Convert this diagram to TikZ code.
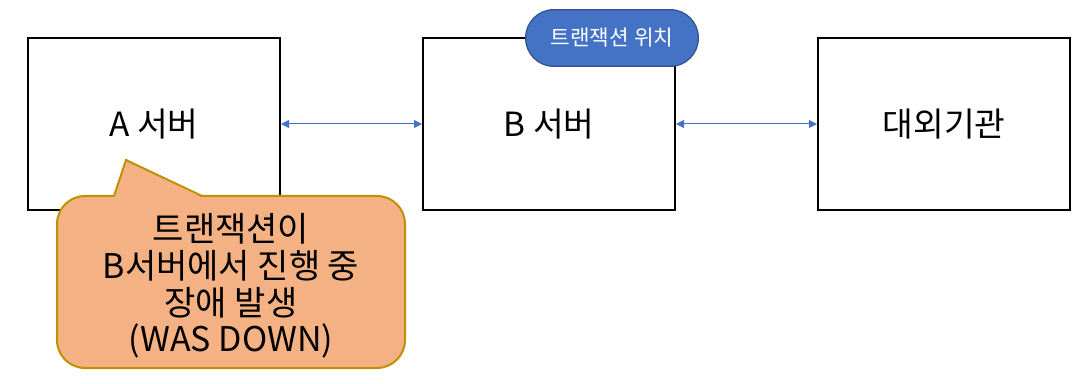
\documentclass[tikz,border=0pt]{standalone}
\usepackage{fontspec}
\setmainfont{Noto Sans CJK KR}
\usetikzlibrary{arrows.meta}
\definecolor{linkblue}{HTML}{4472C4}
\definecolor{pillborder}{HTML}{2F528F}
\definecolor{notefill}{HTML}{F4B183}
\definecolor{noteborder}{HTML}{BF9000}
\tikzset{
  serverbox/.style={draw=black, line width=1.5pt, minimum width=189pt, minimum height=129pt, inner sep=0pt, font=\fontsize{25}{30}\selectfont},
  link/.style={draw=linkblue, line width=0.75pt, {Triangle[length=6pt,width=6pt]}-{Triangle[length=6pt,width=6pt]}},
  pill/.style={draw=pillborder, fill=linkblue, line width=0.9pt, rounded corners=21pt, minimum width=129.5pt, minimum height=42.5pt, inner sep=0pt, text=white, font=\fontsize{16}{19}\selectfont},
  notetext/.style={align=center, font=\fontsize{25.5}{27.5}\selectfont, inner sep=0pt},
}
\begin{document}
\begin{tikzpicture}[x=0.75pt, y=-0.75pt]
\useasboundingbox (0,0) rectangle (1084,384);
\node[serverbox] (a) at (154,124) {A 서버};
\node[serverbox] (b) at (549,124) {B 서버};
\node[serverbox] (c) at (944,124) {대외기관};
\draw[link] (a.east) -- (b.west);
\draw[link] (b.east) -- (c.west);
\node[pill] (pos) at (612,38) {트랜잭션 위치};
% callout
\path[fill=notefill, draw=noteborder, line width=1.5pt, rounded corners=21pt] (57,196) rectangle (405,368);
\fill[notefill] (114,197.5) -- (126,160) -- (202,197.5) -- cycle;
\draw[noteborder, line width=1.5pt, line join=miter] (114,196) -- (126,160) -- (202,196);
\node[notetext] (note) at (231,286) {트랜잭션이\\B서버에서 진행 중\\장애 발생\\(WAS DOWN)};
\end{tikzpicture}
\end{document}
